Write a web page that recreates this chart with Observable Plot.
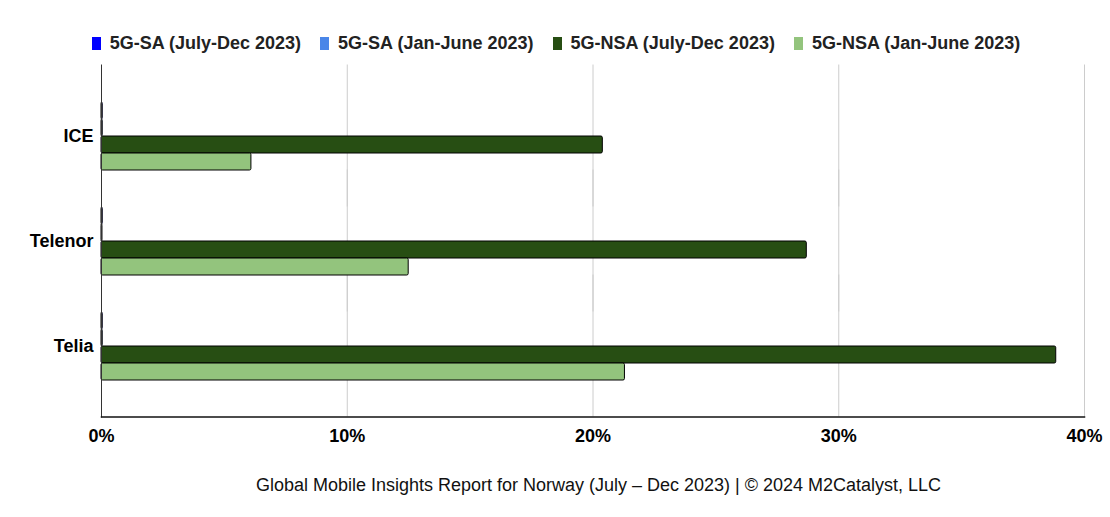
<!DOCTYPE html>
<html>
<head>
<meta charset="utf-8">
<script src="https://cdn.jsdelivr.net/npm/d3@7"></script>
<script src="https://cdn.jsdelivr.net/npm/@observablehq/plot@0.6"></script>
<style>
  html, body { margin: 0; padding: 0; background: #fff; }
  body { width: 1110px; height: 517px; overflow: hidden; font-family: "Liberation Sans", Arial, sans-serif; }
  #legend { height: 60px; box-sizing: border-box; padding-top: 26px; padding-left: 2px; display: flex; justify-content: center; gap: 19px; font-weight: bold; font-size: 18px; line-height: 22px; color: #222; }
  #legend .item { display: flex; align-items: center; gap: 9px; }
  #legend .sw { width: 9px; height: 13px; display: inline-block; }
  #caption { height: 57px; box-sizing: border-box; padding-top: 14px; padding-left: 87px; text-align: center; font-size: 18px; line-height: 22px; color: #111; }
  svg { display: block; }
</style>
</head>
<body>
<div id="legend"></div>
<div id="chart"></div>
<div id="caption">Global Mobile Insights Report for Norway (July – Dec 2023) | © 2024 M2Catalyst, LLC</div>
<script>
const operators = ["ICE", "Telenor", "Telia"];
const seriesNames = ["5G-SA (July-Dec 2023)", "5G-SA (Jan-June 2023)", "5G-NSA (July-Dec 2023)", "5G-NSA (Jan-June 2023)"];
const saJulDec = [0.05, 0.05, 0.05];
const saJanJun = [0.05, 0.04, 0.05];
const nsaJulDec = [20.4, 28.7, 38.85];
const nsaJanJun = [6.1, 12.5, 21.3];
const seriesColors = ["#0000ff", "#4a86e8", "#274e13", "#93c47d"];
const xTicks = [0, 10, 20, 30, 40];

const seriesValues = [saJulDec, saJanJun, nsaJulDec, nsaJanJun];
const data = [];
operators.forEach((op, i) => {
  seriesNames.forEach((s, j) => data.push({operator: op, series: s, value: seriesValues[j][i]}));
});

// legend
const legend = document.getElementById("legend");
seriesNames.forEach((s, j) => {
  const it = document.createElement("div");
  it.className = "item";
  it.innerHTML = `<span class="sw" style="background:${seriesColors[j]}"></span><span>${s}</span>`;
  legend.appendChild(it);
});

const H = 400, MT = 4, MB = 44;
const fyPadOuter = 0.176;
const step = (H - MT - MB) / (operators.length + 2 * fyPadOuter);
const outer = fyPadOuter * step;

const chart = Plot.plot({
  width: 1110,
  height: H,
  marginTop: MT,
  marginBottom: MB,
  marginLeft: 101,
  marginRight: 26,
  style: {fontFamily: "'Liberation Sans', Arial, sans-serif", color: "#000", background: "#fff"},
  x: {domain: [0, 40], axis: null},
  y: {domain: seriesNames, padding: 0, insetTop: 18.5, insetBottom: 18.5, axis: null},
  fy: {domain: operators, paddingInner: 0, paddingOuter: fyPadOuter, axis: null},
  color: {domain: seriesNames, range: seriesColors},
  marks: [
    Plot.ruleX(xTicks.slice(1), {stroke: "#cccccc", strokeWidth: 1, insetTop: -outer, insetBottom: -outer}),
    Plot.barX(data, {fy: "operator", y: "series", x: "value", fill: "series", stroke: "#000", strokeWidth: 1, rx: 1.5}),
    Plot.frame({anchor: "left", facet: "super", stroke: "#333", strokeWidth: 1, insetTop: -outer, insetBottom: -outer}),
    Plot.frame({anchor: "bottom", facet: "super", stroke: "#111", strokeWidth: 1.5, insetTop: -outer, insetBottom: -outer}),
    Plot.axisFy({anchor: "left", tickSize: 0, tickPadding: 8, fontSize: 18, fontWeight: "bold", label: null}),
    Plot.axisX({ticks: xTicks, tickFormat: d => d + "%", tickSize: 0, tickPadding: 12 + outer, fontSize: 18, fontWeight: "bold", label: null})
  ]
});
document.getElementById("chart").appendChild(chart);
</script>
</body>
</html>
